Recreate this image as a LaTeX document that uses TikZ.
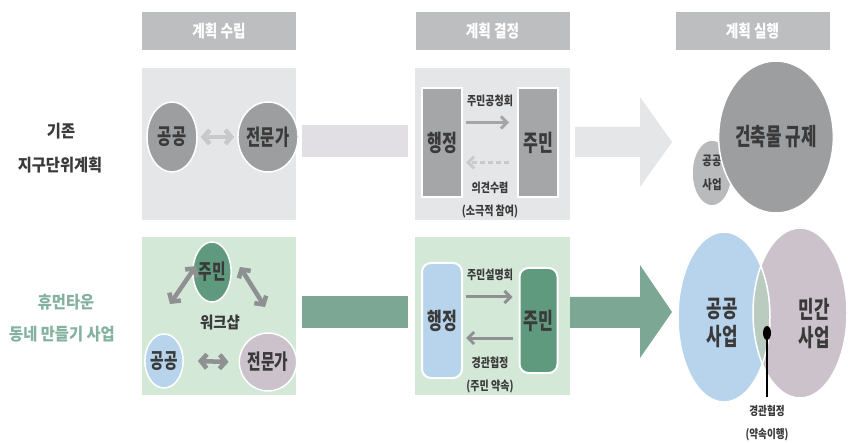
\documentclass[tikz,border=0pt]{standalone}
\usepackage{fontspec}
\setmainfont{Noto Sans CJK KR}[FakeStretch=0.9]
\newfontfamily\cndf{Noto Sans CJK KR}[FakeStretch=0.7]
\newfontfamily\midf{Noto Sans CJK KR}[FakeStretch=0.8]
\usetikzlibrary{shapes.geometric,arrows.meta}
\definecolor{hdrc}{HTML}{BDBEC0}
\definecolor{topbg}{HTML}{E5E6E7}
\definecolor{grnbg}{HTML}{D3E8D6}
\definecolor{bandgray}{HTML}{E1DFE3}
\definecolor{bandgrn}{HTML}{7BA794}
\definecolor{ellgray}{HTML}{9D9EA0}
\definecolor{ellgrayl}{HTML}{B9BABC}
\definecolor{recgray}{HTML}{A5A6A8}
\definecolor{dgreen}{HTML}{5F997E}
\definecolor{lblue}{HTML}{B7D4EC}
\definecolor{lilac}{HTML}{CBC2CC}
\definecolor{lensc}{HTML}{B9CCBF}
\definecolor{arrgray}{HTML}{8E9092}
\definecolor{arrlight}{HTML}{C8C9CB}
\definecolor{txt}{HTML}{3A3A3A}
\definecolor{grntxt}{HTML}{84B29E}
\begin{document}
\begin{tikzpicture}[x=1pt,y=-1pt,
  hdr/.style={fill=hdrc,text=white,minimum width=154pt,minimum height=38pt,inner sep=0pt,font=\midf\bfseries\fontsize{17}{19}\selectfont},
  panel/.style={minimum width=154pt,inner sep=0pt},
  ell/.style={ellipse,draw=white,line width=1.5pt,inner sep=0pt,text=txt,font=\cndf\bfseries\fontsize{22}{24}\selectfont},
  recbox/.style={draw=white,line width=2pt,inner sep=0pt,text=txt,font=\cndf\bfseries\fontsize{23}{25}\selectfont},
  small/.style={text=txt,inner sep=0pt,font=\midf\bfseries\fontsize{12.5}{14}\selectfont},
  side/.style={text=txt,inner sep=0pt,font=\bfseries\fontsize{17}{19}\selectfont},
  thinarr/.style={line width=3pt,-{Straight Barb[length=6pt,width=12pt]}},
  dblarr/.style={line width=4.5pt,{Straight Barb[length=6pt,width=14pt]}-{Straight Barb[length=6pt,width=14pt]}}
]
\useasboundingbox (0,0) rectangle (848,443);
\fill[white] (0,0) rectangle (848,443);

% headers
\node[hdr] (h1) at (219,31) {계획 수립};
\node[hdr] (h2) at (492.5,31) {계획 결정};
\node[hdr] (h3) at (752.5,31) {계획 실행};

% side labels
\node[side] (s1) at (61,131) {기존};
\node[side] (s2) at (60,165) {지구단위계획};
\node[side,text=grntxt] (s3) at (66,302) {휴먼타운};
\node[side,text=grntxt] (s4) at (62,334) {동네 만들기 사업};

% panels
\node[panel,fill=topbg,minimum height=152pt] (b1) at (219,144) {};
\node[panel,fill=topbg,minimum width=155pt,minimum height=152pt] (b2) at (492.5,144) {};
\node[panel,fill=grnbg,minimum height=158pt] (b3) at (219,316) {};
\node[panel,fill=grnbg,minimum width=155pt,minimum height=158pt] (b4) at (492.5,316) {};

% bands between panels
\fill[bandgray] ([xshift=6pt]b1.east |- 0,125) rectangle ([xshift=-7pt]b2.west |- 0,157);
\fill[bandgrn] ([xshift=6pt]b3.east |- 0,296) rectangle ([xshift=-7pt]b4.west |- 0,328);

% big chevron arrows
\fill[topbg] (575,127) -- (640,127) -- (640,97) -- (672,142) -- (640,187) -- (640,157) -- (575,157) -- cycle;
\fill[bandgrn] (570,297) -- (640,297) -- (640,265) -- (672,312) -- (640,358) -- (640,328) -- (570,328) -- cycle;

% top-left
\node[ell,fill=ellgray,minimum width=50pt,minimum height=70pt] (tl1) at (172,137) {공공};
\node[ell,fill=ellgray,minimum width=52pt,minimum height=70pt] (tl2) at (268,137) {전문가};
\draw[dblarr,arrlight] ([xshift=3pt]tl1.east) -- ([xshift=-3pt]tl2.west);

% top-middle
\node[recbox,fill=recgray,minimum width=40pt,minimum height=109pt] (hj1) at (442,142.5) {행정};
\node[recbox,fill=recgray,minimum width=40pt,minimum height=109pt] (jm1) at (538,142.5) {주민};
\draw[thinarr,recgray] ([shift={(3,-20)}]hj1.east) -- ([shift={(-8,-20)}]jm1.west);
\draw[thinarr,recgray!60,dash pattern=on 5pt off 3pt] ([shift={(-8,20)}]jm1.west) -- ([shift={(3,20)}]hj1.east);
\node[small] (l1) at (490,101) {주민공청회};
\node[small] (l2) at (490,188) {의견수렴};
\node[small] (l3) at (490,211) {(소극적 참여)};

% top-right
\node[ell,fill=ellgrayl,minimum width=40pt,minimum height=66pt,font=\midf\bfseries\fontsize{13}{24}\selectfont,align=center] (sm) at (712,173) {공공\\사업};
\node[ell,fill=ellgray,minimum width=97pt,minimum height=152pt,font=\cndf\bfseries\fontsize{24}{26}\selectfont] (big) at (776,137) {건축물 규제};

% bottom-left
\node[ell,fill=dgreen,minimum width=33pt,minimum height=60pt,font=\cndf\bfseries\fontsize{21}{23}\selectfont] (e1) at (212,272) {주민};
\node[ell,fill=lblue,minimum width=34pt,minimum height=54pt,font=\cndf\bfseries\fontsize{21}{23}\selectfont] (e2) at (164,361) {공공};
\node[ell,fill=lilac,minimum width=41pt,minimum height=58pt,font=\cndf\bfseries\fontsize{21}{23}\selectfont] (e3) at (268,362) {전문가};
\node[text=txt,font=\bfseries\fontsize{16}{18}\selectfont] (ws) at (220,322) {워크샵};
\coordinate (a1s) at (170,304);
\coordinate (a1e) at (196,266);
\coordinate (a2s) at (240,267);
\coordinate (a2e) at (265,307);
\draw[dblarr,arrgray] (a1s) -- (a1e);
\draw[dblarr,arrgray] (a2s) -- (a2e);
\draw[dblarr,arrgray] ([xshift=14pt]e2.east) -- ([xshift=-10pt]e3.west);

% bottom-middle
\node[recbox,fill=lblue,rounded corners=9pt,minimum width=40pt,minimum height=115pt] (hj2) at (442,320.5) {행정};
\node[recbox,fill=dgreen,rounded corners=9pt,minimum width=38pt,minimum height=105pt] (jm2) at (538.5,320.5) {주민};
\draw[thinarr,arrgray] ([shift={(3,-23.5)}]hj2.east) -- ([shift={(-6,-23.5)}]jm2.west);
\draw[thinarr,arrgray] ([shift={(-6,17.5)}]jm2.west) -- ([shift={(3,17.5)}]hj2.east);
\node[small] (l4) at (490,275) {주민설명회};
\node[small] (l5) at (490,363) {경관협정};
\node[small] (l6) at (490,387) {(주민 약속)};

% bottom-right
\node[ellipse,fill=lblue,minimum width=92pt,minimum height=170pt,inner sep=0pt] (pub) at (724,317) {};
\node[ellipse,fill=lilac,minimum width=94pt,minimum height=170pt,inner sep=0pt] (pri) at (800,313) {};
\begin{scope}
  \clip (724,317) ellipse [x radius=46pt, y radius=85pt];
  \fill[lensc] (800,313) ellipse [x radius=47pt, y radius=85pt];
\end{scope}
\draw[white,line width=1.5pt] (724,317) ellipse [x radius=46pt, y radius=85pt];
\draw[white,line width=1.5pt] (800,313) ellipse [x radius=47pt, y radius=85pt];
\node[text=txt,align=center,font=\cndf\bfseries\fontsize{24}{28}\selectfont] (pubt) at (722,323) {공공\\사업};
\node[text=txt,align=center,font=\cndf\bfseries\fontsize{24}{28}\selectfont] (prit) at (814,324) {민간\\사업};
\node[ellipse,fill=black,minimum width=8pt,minimum height=14pt,inner sep=0pt] (dot) at (767,333) {};
\node[small,font=\midf\bfseries\fontsize{12}{14}\selectfont] (l7) at (767,411) {경관협정};
\node[small,font=\midf\bfseries\fontsize{12}{14}\selectfont] (l8) at (767,435) {(약속이행)};
\draw[black,line width=2.5pt] (dot.center) -- ([yshift=8pt]l7.north);
\end{tikzpicture}
\end{document}
